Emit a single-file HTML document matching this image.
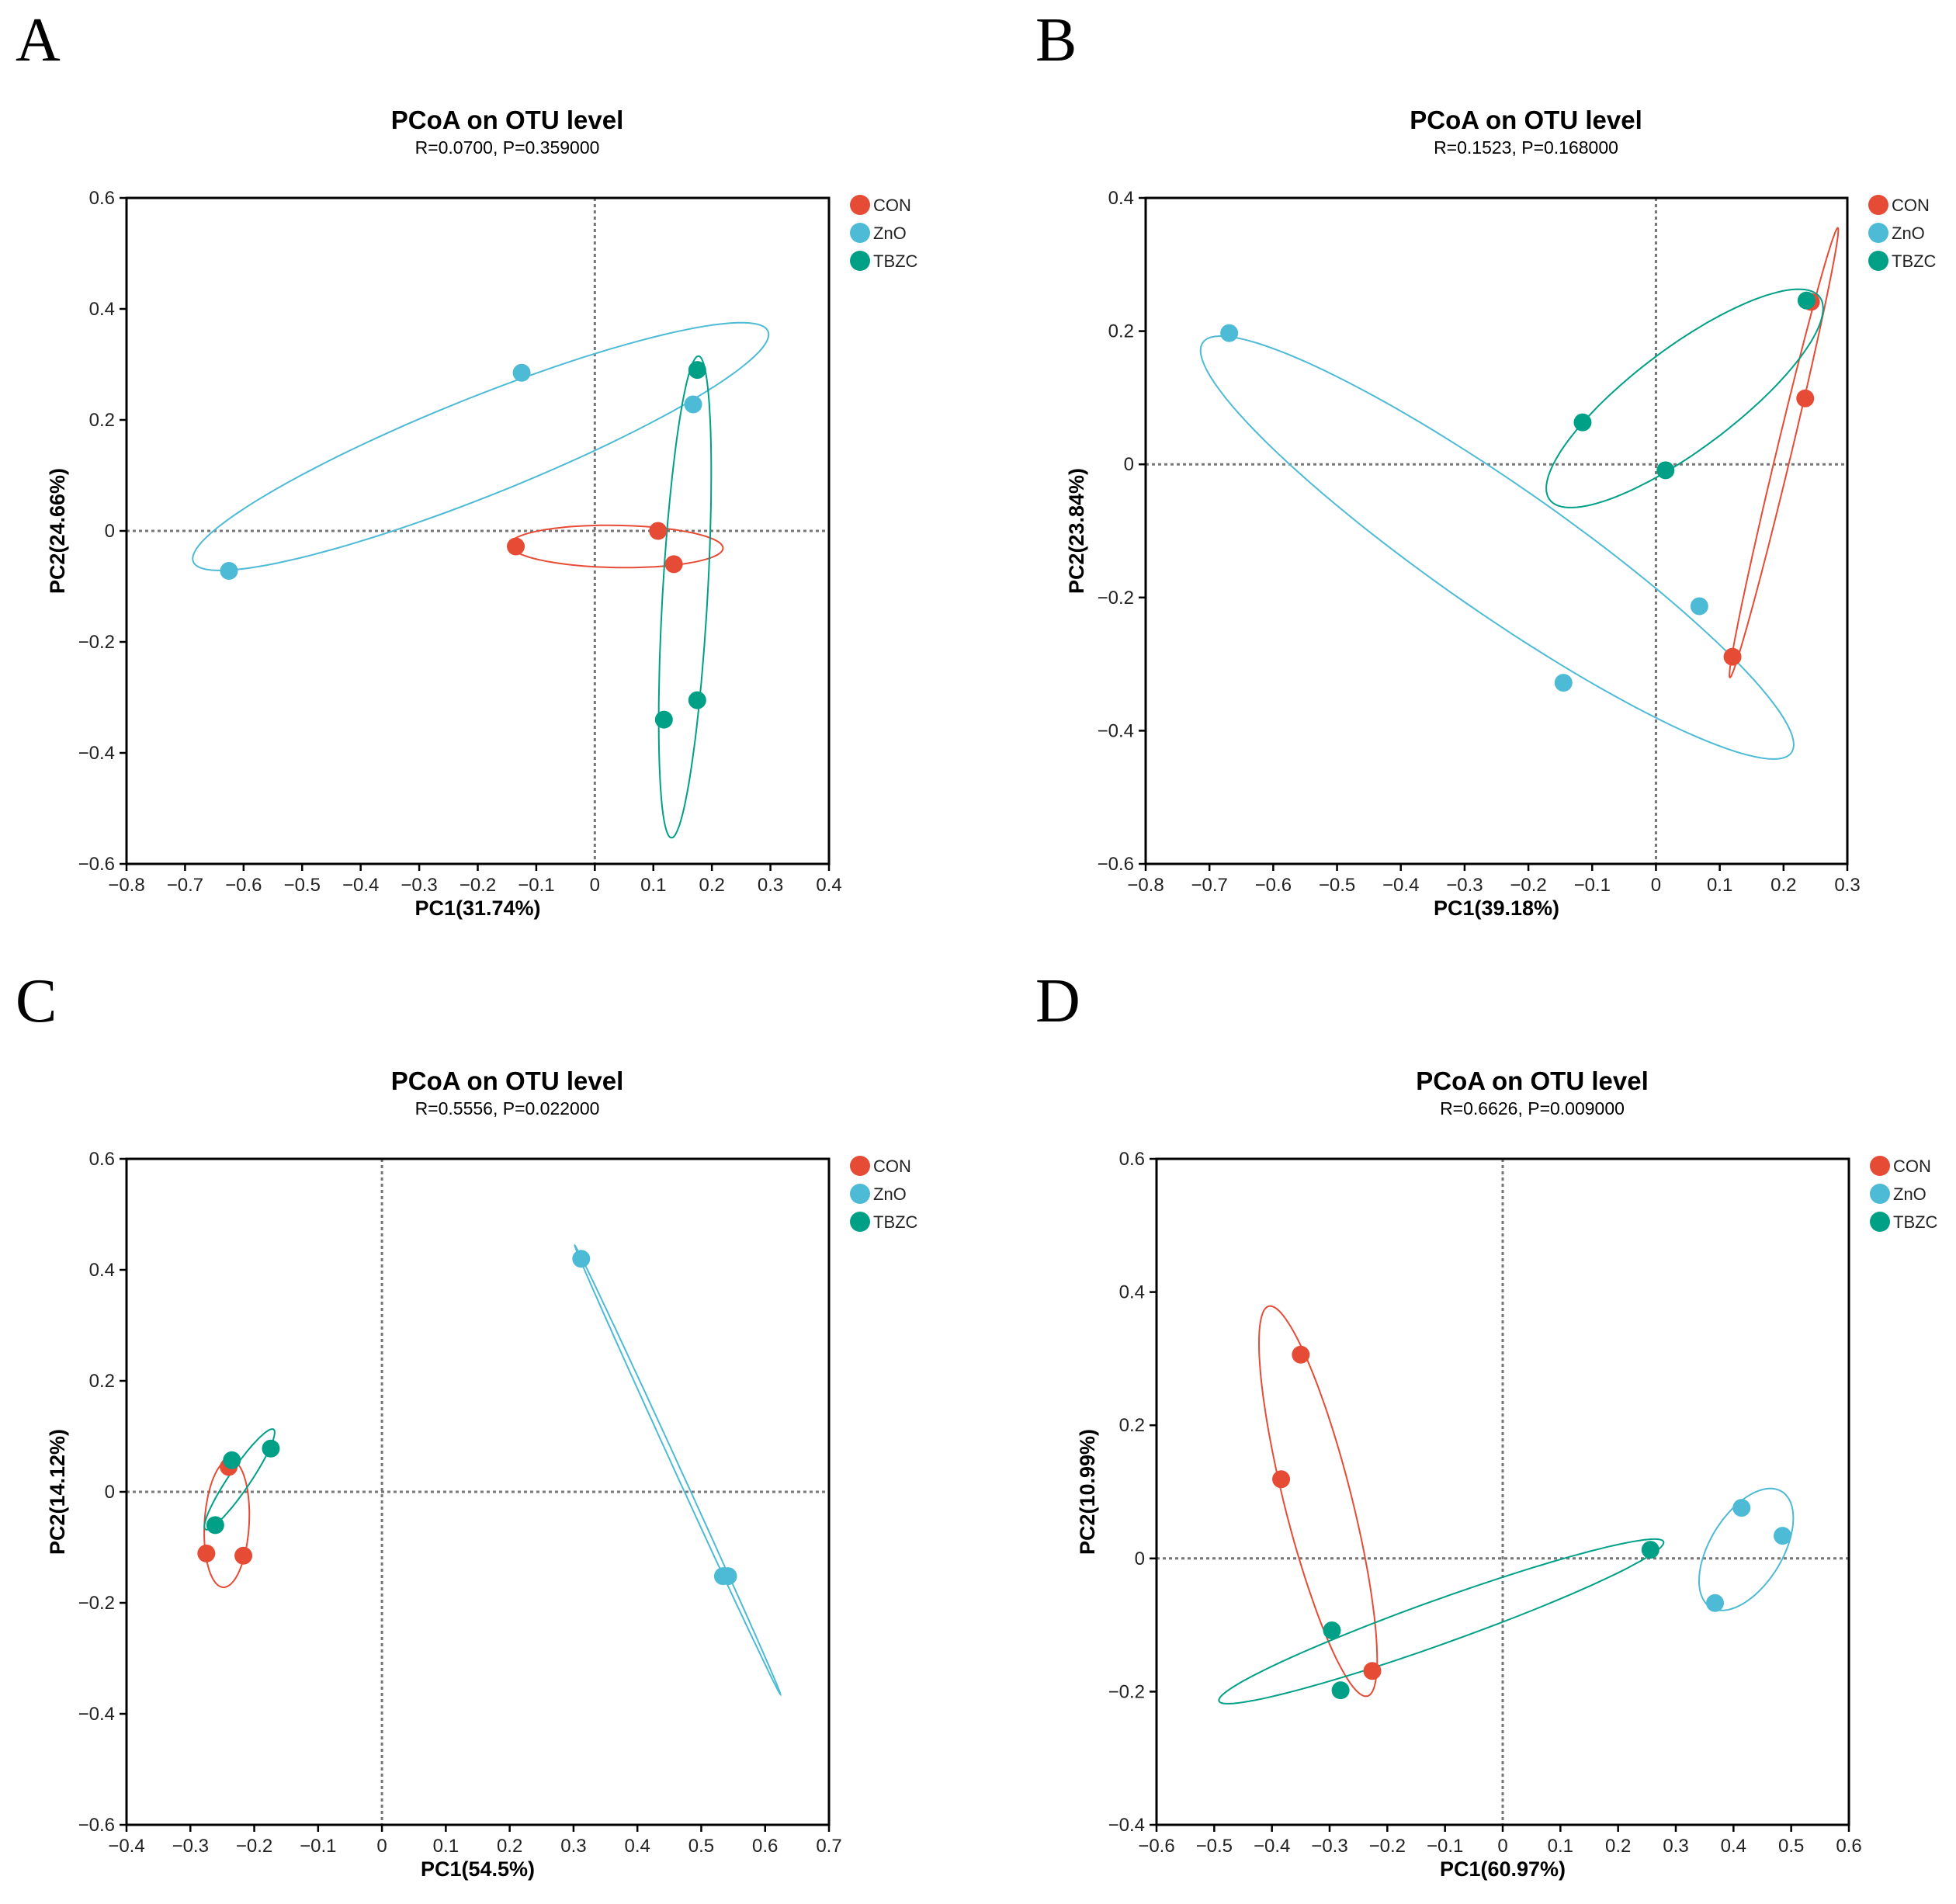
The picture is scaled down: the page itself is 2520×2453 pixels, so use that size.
<!DOCTYPE html>
<html><head><meta charset="utf-8">
<style>
html,body{margin:0;padding:0;background:#fff;}
svg{display:block;font-family:"Liberation Sans",Arial,sans-serif;}
.letter{font-family:"Liberation Serif",serif;font-size:80px;}
</style></head>
<body>
<svg id="fig" width="2520" height="2453" viewBox="0 0 2520 2453"></svg>
<script>
// ---- data (PC1, PC2) per panel ----
const groups = ["CON","ZnO","TBZC"];
const aCON_x=[0.108,-0.135,0.135], aCON_y=[0.0,-0.028,-0.06];
const aZnO_x=[-0.125,-0.625,0.168], aZnO_y=[0.285,-0.072,0.228];
const aTBZC_x=[0.175,0.175,0.118], aTBZC_y=[0.29,-0.305,-0.34];
const bCON_x=[0.243,0.234,0.120], bCON_y=[0.244,0.099,-0.289];
const bZnO_x=[-0.669,-0.145,0.068], bZnO_y=[0.197,-0.328,-0.213];
const bTBZC_x=[0.236,-0.115,0.015], bTBZC_y=[0.246,0.063,-0.009];
const cCON_x=[-0.240,-0.275,-0.217], cCON_y=[0.045,-0.111,-0.115];
const cZnO_x=[0.312,0.534,0.542], cZnO_y=[0.420,-0.152,-0.152];
const cTBZC_x=[-0.235,-0.174,-0.261], cTBZC_y=[0.057,0.078,-0.060];
const dCON_x=[-0.350,-0.384,-0.226], dCON_y=[0.306,0.119,-0.169];
const dZnO_x=[0.414,0.485,0.368], dZnO_y=[0.076,0.034,-0.067];
const dTBZC_x=[0.256,-0.296,-0.281], dTBZC_y=[0.013,-0.108,-0.198];
// ellipses: [cx, cy, ux, uy, vx, vy] (conjugate semi-axes, data units)
const aEll={CON:[0.037,-0.028,0.182,-0.003,0,0.038],ZnO:[-0.195,0.152,0.492,0.202,0,0.095],TBZC:[0.154,-0.119,0.023,0.434,0.0385,0]};
const bEll={CON:[0.2005,0.0175,0.0845,0.3375,0.012,0],ZnO:[-0.249,-0.125,0.465,-0.296,0,0.115],TBZC:[0.045,0.099,0.217,0.135,0,0.093]};
const cEll={CON:[-0.243,-0.057,0.005,0.115,0.035,0],ZnO:[0.463,0.0395,0.161,-0.4045,0.005,0],TBZC:[-0.223,0.0225,0.055,0.0845,0,0.033]};
const dEll={CON:[-0.32,0.086,-0.083,0.293,0.06,0],ZnO:[0.422,0.0135,0.042,0.0915,0.07,0],TBZC:[-0.1065,-0.0945,0.3855,0.1185,0,0.035]};
// ticks
const aXT=[-0.8,-0.7,-0.6,-0.5,-0.4,-0.3,-0.2,-0.1,0,0.1,0.2,0.3,0.4], aYT=[-0.6,-0.4,-0.2,0,0.2,0.4,0.6];
const bXT=[-0.8,-0.7,-0.6,-0.5,-0.4,-0.3,-0.2,-0.1,0,0.1,0.2,0.3], bYT=[-0.6,-0.4,-0.2,0,0.2,0.4];
const cXT=[-0.4,-0.3,-0.2,-0.1,0,0.1,0.2,0.3,0.4,0.5,0.6,0.7], cYT=[-0.6,-0.4,-0.2,0,0.2,0.4,0.6];
const dXT=[-0.6,-0.5,-0.4,-0.3,-0.2,-0.1,0,0.1,0.2,0.3,0.4,0.5,0.6], dYT=[-0.4,-0.2,0,0.2,0.4,0.6];
const aXTitle="PC1(31.74%)", aYTitle="PC2(24.66%)", aSub="R=0.0700, P=0.359000";
const bXTitle="PC1(39.18%)", bYTitle="PC2(23.84%)", bSub="R=0.1523, P=0.168000";
const cXTitle="PC1(54.5%)", cYTitle="PC2(14.12%)", cSub="R=0.5556, P=0.022000";
const dXTitle="PC1(60.97%)", dYTitle="PC2(10.99%)", dSub="R=0.6626, P=0.009000";

const colors={CON:"#E64B35",ZnO:"#4DBBD5",TBZC:"#00A087"};
const NS="http://www.w3.org/2000/svg";
const svg=document.getElementById('fig');
function mk(tag,attrs,parent,text){const e=document.createElementNS(NS,tag);for(const k in attrs)e.setAttribute(k,attrs[k]);if(text!==undefined)e.textContent=text;(parent||svg).appendChild(e);return e;}
function fmt(v){if(Math.abs(v)<1e-9)return "0";return (v<0?"\u2212":"")+Math.abs(v).toFixed(1);}

const panels=[
 {id:"a",letter:"A",lx:20,ly:78,L:163,R:1068,T:255,B:1113,xt:aXT,yt:aYT,pts:{CON:[aCON_x,aCON_y],ZnO:[aZnO_x,aZnO_y],TBZC:[aTBZC_x,aTBZC_y]},ell:aEll,xtitle:aXTitle,ytitle:aYTitle,sub:aSub},
 {id:"b",letter:"B",lx:1334,ly:78,L:1476,R:2380,T:255,B:1113,xt:bXT,yt:bYT,pts:{CON:[bCON_x,bCON_y],ZnO:[bZnO_x,bZnO_y],TBZC:[bTBZC_x,bTBZC_y]},ell:bEll,xtitle:bXTitle,ytitle:bYTitle,sub:bSub},
 {id:"c",letter:"C",lx:20,ly:1316,L:163,R:1068,T:1493,B:2351,xt:cXT,yt:cYT,pts:{CON:[cCON_x,cCON_y],ZnO:[cZnO_x,cZnO_y],TBZC:[cTBZC_x,cTBZC_y]},ell:cEll,xtitle:cXTitle,ytitle:cYTitle,sub:cSub},
 {id:"d",letter:"D",lx:1334,ly:1316,L:1490,R:2382,T:1493,B:2351,xt:dXT,yt:dYT,pts:{CON:[dCON_x,dCON_y],ZnO:[dZnO_x,dZnO_y],TBZC:[dTBZC_x,dTBZC_y]},ell:dEll,xtitle:dXTitle,ytitle:dYTitle,sub:dSub}
];

panels.forEach(p=>{
  const g=mk('g',{});
  
  
  const x0=p.xt[0],x1=p.xt[p.xt.length-1],y0=p.yt[0],y1=p.yt[p.yt.length-1];
  const sx=v=>p.L+(v-x0)/(x1-x0)*(p.R-p.L);
  const sy=v=>p.B-(v-y0)/(y1-y0)*(p.B-p.T);
  const cx=(p.L+p.R)/2+38;
  const lt=mk('text',{x:p.lx,y:p.ly,class:'letter'},g,p.letter);
  
  
  const t=mk('text',{x:cx,y:p.T-89,'text-anchor':'middle','font-size':33,'font-weight':'bold'},g,"PCoA on OTU level");
  
  
  const st=mk('text',{x:cx,y:p.T-57,'text-anchor':'middle','font-size':23},g,p.sub);
  
  
  // zero lines
  const zx=mk('line',{x1:sx(0),x2:sx(0),y1:p.T,y2:p.B,stroke:'#777',"stroke-width":3,"stroke-dasharray":"4,4"},g);
  
  
  const zy=mk('line',{x1:p.L,x2:p.R,y1:sy(0),y2:sy(0),stroke:'#777',"stroke-width":3,"stroke-dasharray":"4,4"},g);
  
  
  // ellipses
  groups.forEach(k=>{
    const e=p.ell[k];let d="";
    for(let i=0;i<=120;i++){const a=i/120*2*Math.PI;const X=sx(e[0]+e[2]*Math.cos(a)+e[4]*Math.sin(a));const Y=sy(e[1]+e[3]*Math.cos(a)+e[5]*Math.sin(a));d+=(i?"L":"M")+X.toFixed(1)+","+Y.toFixed(1);}
    const el=mk('path',{d:d+"Z",fill:'none',stroke:colors[k],"stroke-width":2},g);
    
    
  });
  // points
  groups.forEach(k=>{
    const xs=p.pts[k][0],ys=p.pts[k][1];
    xs.forEach((v,i)=>{
      const c=mk('circle',{cx:sx(v),cy:sy(ys[i]),r:11.5,fill:colors[k]},g);
      
      
    });
  });
  // frame
  const fr=mk('rect',{x:p.L,y:p.T,width:p.R-p.L,height:p.B-p.T,fill:'none',stroke:'#000',"stroke-width":3},g);
  
  
  // ticks
  p.xt.forEach(v=>{
    mk('line',{x1:sx(v),x2:sx(v),y1:p.B,y2:p.B+9,stroke:'#000',"stroke-width":2.5},g);
    const tl=mk('text',{x:sx(v),y:p.B+35,'text-anchor':'middle','font-size':24,fill:'#222'},g,fmt(v));
    
    
  });
  p.yt.forEach(v=>{
    mk('line',{x1:p.L-9,x2:p.L,y1:sy(v),y2:sy(v),stroke:'#000',"stroke-width":2.5},g);
    const tl=mk('text',{x:p.L-15,y:sy(v)+8,'text-anchor':'end','font-size':24,fill:'#222'},g,fmt(v));
    
    
  });
  const xt=mk('text',{x:(p.L+p.R)/2,y:p.B+66,'text-anchor':'middle','font-size':27,'font-weight':'bold'},g,p.xtitle);
  
  
  const yy=(p.T+p.B)/2, yx=p.L-80;
  const yt=mk('text',{x:yx,y:yy,'text-anchor':'middle','font-size':27,'font-weight':'bold',transform:`rotate(-90 ${yx} ${yy})`},g,p.ytitle);
  
  
  // legend
  groups.forEach((k,i)=>{
    const ly=p.T+9+i*36;
    const lg=mk('g',{},g);
    
    
    mk('circle',{cx:p.R+40,cy:ly,r:13,fill:colors[k]},lg);
    mk('text',{x:p.R+57,y:ly+8,'font-size':22,fill:'#222'},lg,k);
  });
});
</script>
</body></html>
